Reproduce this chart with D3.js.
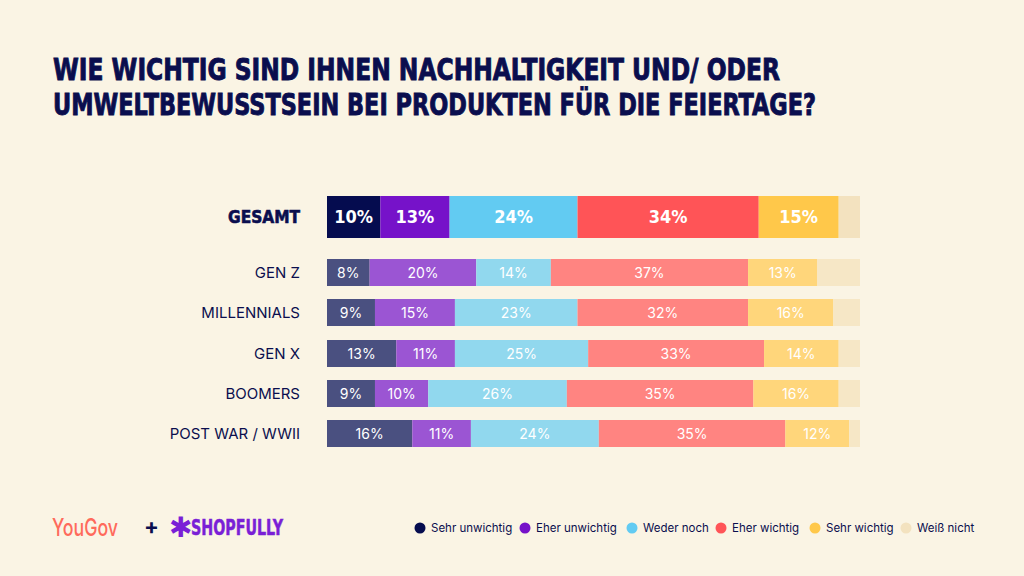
<!DOCTYPE html>
<html>
<head>
<meta charset="utf-8">
<script src="https://cdn.jsdelivr.net/npm/d3@7"></script>
<style>
  html, body { margin: 0; padding: 0; background: #faf4e4; }
  svg { display: block; }
</style>
</head>
<body>
<div id="chart"></div>
<script>
// Data
const groups = ["GESAMT", "GEN Z", "MILLENNIALS", "GEN X", "BOOMERS", "POST WAR / WWII"];
const categories = ["Sehr unwichtig", "Eher unwichtig", "Weder noch", "Eher wichtig", "Sehr wichtig", "Weiß nicht"];
const sehrUnwichtig = [10, 8, 9, 13, 9, 16];
const eherUnwichtig = [13, 20, 15, 11, 10, 11];
const wederNoch     = [24, 14, 23, 25, 26, 24];
const eherWichtig   = [34, 37, 32, 33, 35, 35];
const sehrWichtig   = [15, 13, 16, 14, 16, 12];
const weissNicht    = [4, 8, 5, 4, 4, 2];

const seriesValues = [sehrUnwichtig, eherUnwichtig, wederNoch, eherWichtig, sehrWichtig, weissNicht];
const strongColors = ["#050c4f", "#7612c9", "#62cbf2", "#ff5457", "#ffc84a", "#f3e2bf"];
const softColors   = ["#4a5080", "#9b55d3", "#91d8ee", "#ff8481", "#ffd67b", "#f6e7c6"];
const navy = "#0a0e4e";

const width = 1024, height = 576;

const svg = d3.select("#chart")
  .append("svg")
  .attr("width", width)
  .attr("height", height);

svg.append("rect")
  .attr("width", width)
  .attr("height", height)
  .attr("fill", "#faf4e4");

// Title
const titleLines = [
  "WIE WICHTIG SIND IHNEN NACHHALTIGKEIT UND/ ODER",
  "UMWELTBEWUSSTSEIN BEI PRODUKTEN FÜR DIE FEIERTAGE?"
];
const titleWidths = [727, 763];
svg.selectAll("text.title")
  .data(titleLines)
  .enter()
  .append("text")
  .attr("class", "title")
  .attr("x", 53)
  .attr("y", (d, i) => 80 + i * 35)
  .attr("textLength", (d, i) => titleWidths[i])
  .attr("lengthAdjust", "spacingAndGlyphs")
  .attr("font-family", "'DejaVu Sans Condensed', 'DejaVu Sans', sans-serif")
  .attr("font-weight", "bold")
  .attr("font-size", 31)
  .attr("fill", navy)
  .attr("stroke", navy)
  .attr("stroke-width", 0.9)
  .text(d => d);

// Scales
const x = d3.scaleLinear().domain([0, 100]).range([327, 860]);

const rowY = [196, 259, 299, 340, 380, 420];
const rowH = [42, 27, 27, 27, 27, 27];

// Stack rows
const rows = groups.map((g, i) => {
  let acc = 0;
  return seriesValues.map((s, k) => {
    const seg = { group: i, cat: k, value: s[i], x0: acc, x1: acc + s[i] };
    acc += s[i];
    return seg;
  });
});

const rowG = svg.selectAll("g.row")
  .data(rows)
  .enter()
  .append("g")
  .attr("class", "row");

rowG.selectAll("rect")
  .data(d => d)
  .enter()
  .append("rect")
  .attr("x", d => x(d.x0))
  .attr("width", d => x(d.x1) - x(d.x0))
  .attr("y", d => rowY[d.group])
  .attr("height", d => rowH[d.group])
  .attr("fill", d => d.group === 0 ? strongColors[d.cat] : softColors[d.cat]);

// Value labels (not for "Weiß nicht")
rowG.selectAll("text.val")
  .data(d => d.filter(s => s.cat < 5))
  .enter()
  .append("text")
  .attr("class", "val")
  .attr("x", d => (x(d.x0) + x(d.x1)) / 2)
  .attr("y", d => rowY[d.group] + rowH[d.group] / 2)
  .attr("dy", "0.36em")
  .attr("text-anchor", "middle")
  .attr("font-family", d => d.group === 0 ? "'DejaVu Sans Condensed', sans-serif" : "Inter, sans-serif")
  .attr("font-weight", d => d.group === 0 ? "bold" : "normal")
  .attr("font-size", d => d.group === 0 ? 18 : 14)
  .attr("fill", "#ffffff")
  .text(d => d.value + "%");

// Group labels
svg.selectAll("text.group")
  .data(groups)
  .enter()
  .append("text")
  .attr("class", "group")
  .attr("x", 300)
  .attr("y", (d, i) => rowY[i] + rowH[i] / 2)
  .attr("dy", "0.36em")
  .attr("text-anchor", "end")
  .attr("font-family", (d, i) => i === 0 ? "'DejaVu Sans Condensed', sans-serif" : "Inter, sans-serif")
  .attr("font-weight", (d, i) => i === 0 ? "bold" : "normal")
  .attr("font-size", (d, i) => i === 0 ? 18 : 15)
  .attr("textLength", (d, i) => i === 0 ? 72 : null)
  .attr("lengthAdjust", "spacingAndGlyphs")
  .attr("stroke", (d, i) => i === 0 ? navy : "none")
  .attr("stroke-width", 0.6)
  .attr("fill", navy)
  .text(d => d);

// Legend
const legendX = [420, 525, 632, 721, 815, 906];
const legend = svg.selectAll("g.legend")
  .data(categories)
  .enter()
  .append("g")
  .attr("class", "legend")
  .attr("transform", (d, i) => `translate(${legendX[i]},528)`);

legend.append("circle")
  .attr("r", 5.5)
  .attr("fill", (d, i) => strongColors[i]);

legend.append("text")
  .attr("x", 11)
  .attr("dy", "0.35em")
  .attr("font-family", "Inter, sans-serif")
  .attr("font-size", 11.5)
  .attr("fill", navy)
  .text(d => d);

// Logos
svg.append("text")
  .attr("x", 52)
  .attr("y", 536)
  .attr("textLength", 66)
  .attr("lengthAdjust", "spacingAndGlyphs")
  .attr("font-family", "Inter, sans-serif")
  .attr("font-weight", 500)
  .attr("font-size", 24)
  .attr("fill", "#ff6a5b")
  .text("YouGov");

svg.append("text")
  .attr("x", 144)
  .attr("y", 534)
  .attr("font-family", "Inter, sans-serif")
  .attr("font-weight", "bold")
  .attr("font-size", 22)
  .attr("fill", navy)
  .text("+");

svg.append("text")
  .attr("x", 169)
  .attr("y", 537)
  .attr("font-family", "'DejaVu Sans', sans-serif")
  .attr("font-weight", "bold")
  .attr("font-size", 28)
  .attr("fill", "#7a1fd6")
  .text("✱");

svg.append("text")
  .attr("x", 191)
  .attr("y", 535)
  .attr("textLength", 92)
  .attr("lengthAdjust", "spacingAndGlyphs")
  .attr("font-family", "'DejaVu Sans Condensed', sans-serif")
  .attr("font-weight", "bold")
  .attr("font-size", 21)
  .attr("fill", "#7a1fd6")
  .attr("stroke", "#7a1fd6")
  .attr("stroke-width", 0.5)
  .text("SHOPFULLY");
</script>
</body>
</html>
